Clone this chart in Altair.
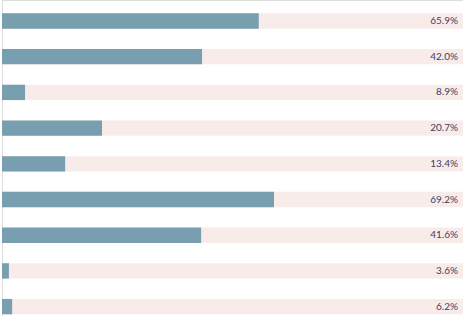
import altair as alt
import pandas as pd

rows = [0, 1, 2, 3, 4, 5, 6, 7, 8]
bar_values = [55.7, 43.4, 5.0, 21.7, 13.7, 59.0, 43.2, 1.5, 2.2]
labels = ["65.9%", "42.0%", "8.9%", "20.7%", "13.4%", "69.2%", "41.6%", "3.6%", "6.2%"]
track_max = 100

df = pd.DataFrame({"i": rows, "v": bar_values, "label": labels, "track": [track_max] * len(rows)})

x_scale = alt.Scale(domain=[0, 100], nice=False, zero=True)
y_scale = alt.Scale(domain=[8.263, -0.588], nice=False, zero=False)

base = alt.Chart(df).transform_calculate(
    y0="datum.i - 0.215", y1="datum.i + 0.215"
)

track = base.mark_rect(color="#f8eceb", clip=True).encode(
    x=alt.X("zero:Q", scale=x_scale, axis=None),
    x2="track:Q",
    y=alt.Y("y0:Q", scale=y_scale, axis=None),
    y2="y1:Q",
).transform_calculate(zero="0")

bars = base.mark_rect(color="#789fb0", clip=True).encode(
    x=alt.X("zero:Q", scale=x_scale, axis=None),
    x2="v:Q",
    y=alt.Y("y0:Q", scale=y_scale, axis=None),
    y2="y1:Q",
).transform_calculate(zero="0")

text = base.mark_text(
    align="right", baseline="middle", dx=-5, fontSize=10, font="Lato", color="#3b4060", clip=True
).encode(
    x=alt.X("track:Q", scale=x_scale, axis=None),
    y=alt.Y("i:Q", scale=y_scale, axis=None),
    text="label:N",
)

chart = alt.layer(track, bars, text).properties(
    width=461, height=316,
    padding={"left": 2, "right": 0, "top": 0, "bottom": 0},
    autosize=alt.AutoSizeParams(type="none"),
).configure_view(stroke=None).configure(background="white")

chart.save("out.html", embed_options={"renderer": "svg", "actions": False})
